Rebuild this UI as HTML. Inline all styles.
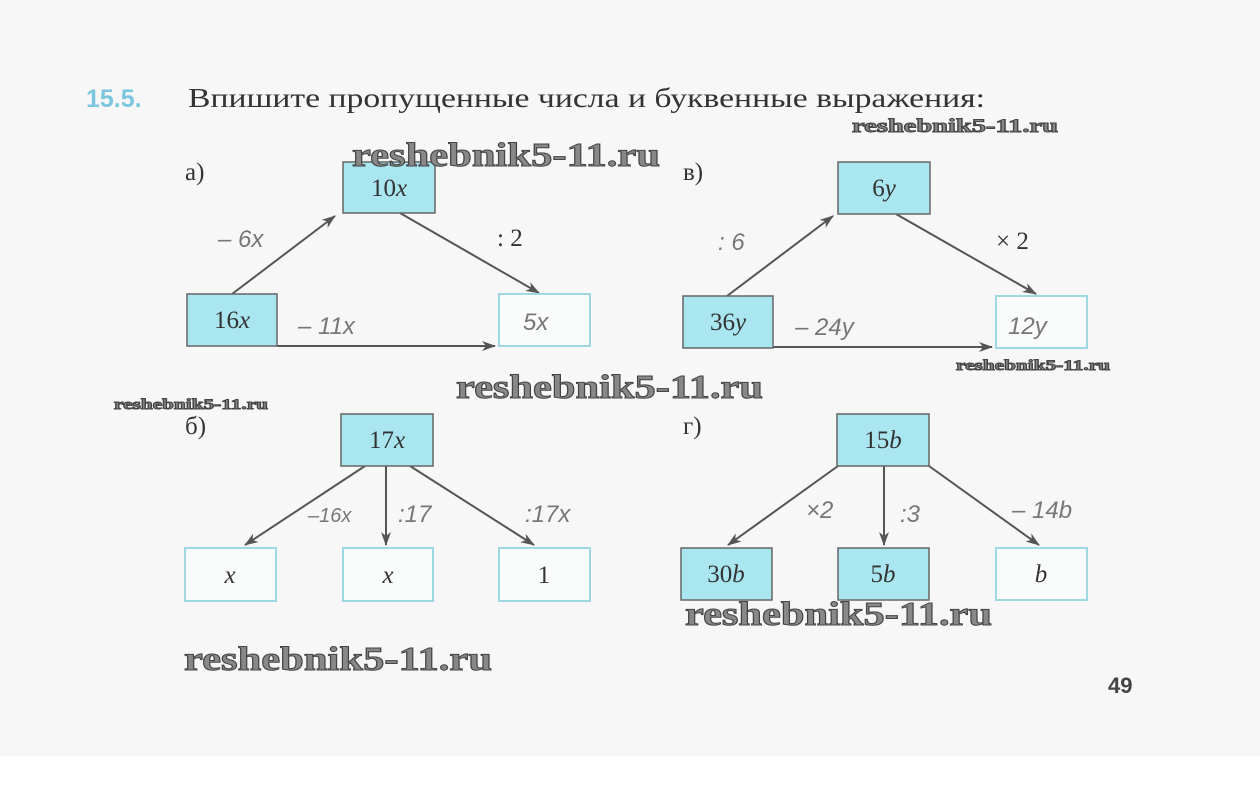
<!DOCTYPE html>
<html><head><meta charset="utf-8"><style>
html,body{margin:0;padding:0;background:#fff}
svg{display:block}
.t{font-family:"Liberation Serif",serif;fill:#333}
.m{font-family:"Liberation Serif",serif;font-style:italic;fill:#333;font-size:25px}
.h{font-family:"Liberation Sans",sans-serif;font-style:italic;fill:#777;font-size:24px}
.w{font-family:"Liberation Serif",serif;font-weight:bold;fill:#888;stroke:#444;stroke-width:1}
</style></head><body>
<svg width="1260" height="789" xmlns="http://www.w3.org/2000/svg">
<defs><marker id="a" markerWidth="14" markerHeight="10" refX="13" refY="5" orient="auto" markerUnits="userSpaceOnUse"><path d="M0,0 L14,5 L0,10 L4,5 z" fill="#555"/></marker></defs>
<rect width="1260" height="756" fill="#f7f7f7"/>
<text x="86" y="107" font-family="Liberation Sans,sans-serif" font-weight="bold" font-size="25" fill="#7cc6e0">15.5.</text>
<text x="188" y="107" class="t" font-size="27" textLength="797" lengthAdjust="spacingAndGlyphs">Впишите пропущенные числа и буквенные выражения:</text>
<text x="852" y="132" class="w" font-size="19" stroke-width="0.4" textLength="206" lengthAdjust="spacingAndGlyphs">reshebnik5-11.ru</text>
<g stroke="#555" stroke-width="2" fill="none" marker-end="url(#a)">
<line x1="232" y1="294" x2="335" y2="216"/>
<line x1="400" y1="213" x2="539" y2="293"/>
<line x1="277" y1="346" x2="495" y2="346"/>
<line x1="727" y1="296" x2="833" y2="216"/>
<line x1="896" y1="214" x2="1036" y2="294"/>
<line x1="773" y1="347" x2="992" y2="347"/>
<line x1="365" y1="466" x2="245" y2="545"/>
<line x1="386" y1="466" x2="386" y2="545"/>
<line x1="410" y1="466" x2="534" y2="545"/>
<line x1="838" y1="466" x2="728" y2="545"/>
<line x1="884" y1="466" x2="884" y2="545"/>
<line x1="929" y1="466" x2="1039" y2="545"/>
</g>
<g stroke="#666" stroke-width="1.5" fill="#a9e6f0">
<rect x="343" y="162" width="92" height="51"/>
<rect x="187" y="294" width="90" height="52"/>
<rect x="838" y="162" width="92" height="52"/>
<rect x="683" y="296" width="90" height="52"/>
<rect x="341" y="414" width="92" height="52"/>
<rect x="837" y="414" width="92" height="52"/>
<rect x="681" y="548" width="91" height="52"/>
<rect x="838" y="548" width="91" height="52"/>
</g>
<g stroke="#9fd8e3" stroke-width="2" fill="#fafcfc">
<rect x="499" y="294" width="91" height="52"/>
<rect x="996" y="296" width="91" height="52"/>
<rect x="185" y="548" width="91" height="53"/>
<rect x="343" y="548" width="90" height="53"/>
<rect x="499" y="548" width="91" height="53"/>
<rect x="996" y="548" width="91" height="52"/>
</g>
<g class="t" font-size="25">
<text x="185" y="180">а)</text><text x="683" y="180">в)</text>
<text x="185" y="434">б)</text><text x="683" y="434">г)</text>
<text x="497" y="246">: 2</text><text x="996" y="249">× 2</text>
</g>
<g class="m" text-anchor="middle">
<text x="389" y="196"><tspan font-style="normal">10</tspan>x</text>
<text x="232" y="328"><tspan font-style="normal">16</tspan>x</text>
<text x="884" y="196"><tspan font-style="normal">6</tspan>y</text>
<text x="728" y="330"><tspan font-style="normal">36</tspan>y</text>
<text x="387" y="448"><tspan font-style="normal">17</tspan>x</text>
<text x="883" y="448"><tspan font-style="normal">15</tspan>b</text>
<text x="726" y="582"><tspan font-style="normal">30</tspan>b</text>
<text x="883" y="582"><tspan font-style="normal">5</tspan>b</text>
<text x="1041" y="582">b</text>
<text x="230" y="583">x</text>
<text x="388" y="583">x</text>
<text x="544" y="583" font-style="normal">1</text>
</g>
<g class="h">
<text x="218" y="247">– 6x</text>
<text x="298" y="334">–  11x</text>
<text x="523" y="330">5x</text>
<text x="718" y="250">: 6</text>
<text x="795" y="335">– 24y</text>
<text x="1008" y="334">12y</text>
<text x="308" y="522" font-size="20">–16x</text>
<text x="398" y="522">:17</text>
<text x="525" y="522">:17x</text>
<text x="806" y="518">×2</text>
<text x="900" y="522">:3</text>
<text x="1012" y="518">– 14b</text>
</g>
<text x="352" y="166" class="w" font-size="34" textLength="308" lengthAdjust="spacingAndGlyphs">reshebnik5-11.ru</text>
<text x="456" y="398" class="w" font-size="34" textLength="307" lengthAdjust="spacingAndGlyphs">reshebnik5-11.ru</text>
<text x="685" y="625" class="w" font-size="34" textLength="307" lengthAdjust="spacingAndGlyphs">reshebnik5-11.ru</text>
<text x="184" y="670" class="w" font-size="34" textLength="308" lengthAdjust="spacingAndGlyphs">reshebnik5-11.ru</text>
<text x="114" y="409" class="w" font-size="15" stroke-width="0.3" textLength="154" lengthAdjust="spacingAndGlyphs">reshebnik5-11.ru</text>
<text x="956" y="370" class="w" font-size="15" stroke-width="0.3" textLength="154" lengthAdjust="spacingAndGlyphs">reshebnik5-11.ru</text>
<text x="1108" y="693" font-family="Liberation Sans,sans-serif" font-weight="bold" font-size="22" fill="#444">49</text>
</svg>
</body></html>
